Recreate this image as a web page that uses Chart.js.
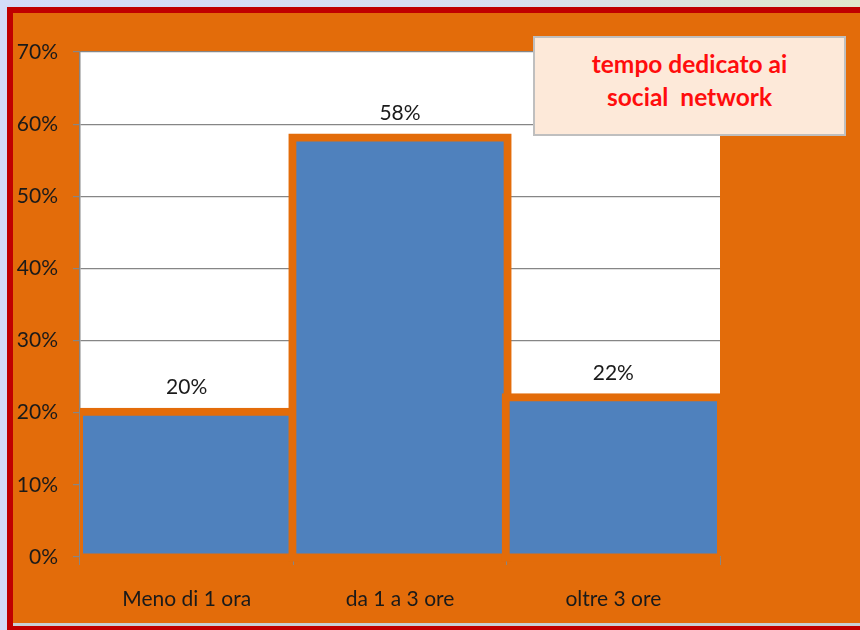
<!DOCTYPE html>
<html lang="it">

<head>
  <meta charset="UTF-8">
  <title>tempo dedicato ai social network</title>
  <style>
    html, body {
      margin: 0;
      padding: 0;
    }

    body {
      width: 860px;
      height: 630px;
      overflow: hidden;
      position: relative;
      background: linear-gradient(90deg, #d3dcf8 0%, #d8e0ef 60%, #e0e8cc 100%);
    }

    .cornice {
      position: absolute;
      left: 7px;
      top: 7px;
      width: 880px;
      height: 613px;
      background: #e36c0a;
      border-top: 6px solid #c00000;
      border-left: 6px solid #c00000;
      border-bottom: 4px solid #c00000;
      box-shadow: inset 0 -3px 0 #c8d2d6;
    }

    #grafico {
      position: absolute;
      left: 0;
      top: 0;
    }

    .titolo {
      position: absolute;
      left: 533px;
      top: 36px;
      width: 309px;
      background: #fde9d9;
      border: 2px solid #bfbfbf;
      color: #ff0d0d;
      font-family: Lato, sans-serif;
      font-weight: bold;
      font-size: 24.5px;
      line-height: 33px;
      text-align: center;
      white-space: pre;
      padding-top: 9px;
      height: 87px;
    }
  </style>
</head>

<body>
  <div class="cornice"></div>
  <canvas id="grafico" width="860" height="630"></canvas>
  <div class="titolo">tempo dedicato ai
social  network</div>

  <script src="https://cdn.jsdelivr.net/npm/chart.js"></script>
  <script>
    // dati
    const categorie = ['Meno di 1 ora', 'da 1 a 3 ore', 'oltre 3 ore'];
    const percentuali = [20, 58, 22];
    const tickMax = 70;
    const tickPasso = 10;

    const arancio = '#e36c0a';
    const blu = '#4f81bd';
    const grigio = '#868686';
    const testo = '#1a1a1a';
    const font = { family: 'Lato, sans-serif', size: 21 };

    // sfondo bianco dell'area del grafico
    const areaBianca = {
      id: 'areaBianca',
      beforeDraw(chart) {
        const { ctx, chartArea } = chart;
        ctx.save();
        ctx.fillStyle = '#ffffff';
        ctx.fillRect(chartArea.left, chartArea.top, chartArea.right - chartArea.left, chartArea.bottom - chartArea.top);
        ctx.restore();
      }
    };

    // etichette sopra le barre
    const etichette = {
      id: 'etichette',
      afterDatasetsDraw(chart) {
        const { ctx } = chart;
        const meta = chart.getDatasetMeta(0);
        ctx.save();
        ctx.font = font.size + 'px ' + font.family;
        ctx.fillStyle = testo;
        ctx.textAlign = 'center';
        ctx.textBaseline = 'middle';
        meta.data.forEach((barra, i) => {
          ctx.fillText(percentuali[i] + '%', barra.x, barra.y - 25);
        });
        ctx.restore();
      }
    };

    new Chart(document.getElementById('grafico'), {
      type: 'bar',
      data: {
        labels: categorie,
        datasets: [{
          data: percentuali,
          backgroundColor: blu,
          borderColor: arancio,
          borderWidth: 8,
          borderSkipped: false,
          inflateAmount: 5,
          barPercentage: 1,
          categoryPercentage: 1,
          clip: { left: 0, top: false, right: 0, bottom: false }
        }]
      },
      options: {
        responsive: false,
        animation: false,
        layout: {
          padding: { left: 0, top: 52, right: 140, bottom: 0 }
        },
        plugins: {
          legend: { display: false },
          tooltip: { enabled: false }
        },
        scales: {
          x: {
            z: 1,
            afterFit(scale) { scale.height = 73; },
            grid: {
              offset: true,
              drawOnChartArea: false,
              color: grigio,
              tickLength: 8
            },
            border: { color: grigio, width: 1.5 },
            ticks: { color: testo, font: font, padding: 22 }
          },
          y: {
            min: 0,
            max: tickMax,
            afterFit(scale) { scale.width = 80; },
            grid: { color: grigio, lineWidth: 1.2, tickLength: 7 },
            border: { color: grigio, width: 1.5 },
            ticks: {
              stepSize: tickPasso,
              color: testo,
              font: font,
              padding: 15,
              callback: (v) => v + '%'
            }
          }
        }
      },
      plugins: [areaBianca, etichette]
    });
  </script>
</body>

</html>
